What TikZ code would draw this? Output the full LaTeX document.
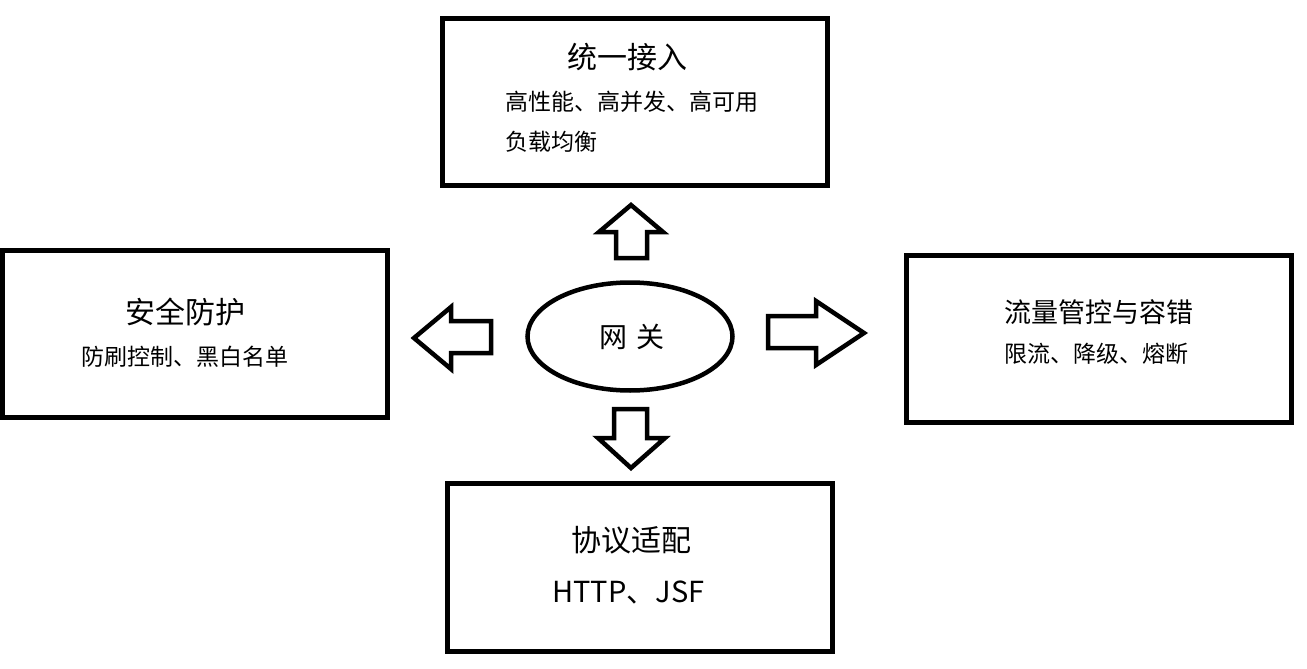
\documentclass[tikz,border=0pt]{standalone}
\usepackage{fontspec}
\setmainfont{Noto Sans CJK SC}
\usetikzlibrary{shapes.geometric}
\begin{document}
\begin{tikzpicture}[x=1pt,y=-1pt,
  box/.style={draw,line width=5pt,inner sep=0pt,minimum width=385pt,minimum height=167pt},
  blockarrow/.style={draw,line width=4.5pt,line join=miter},
  title/.style={inner sep=0pt,font=\fontsize{30}{36}\selectfont},
  body/.style={inner sep=0pt,font=\fontsize{23}{28}\selectfont}]
\useasboundingbox (0,0) rectangle (1307,669);
% boxes
\node[box] (top) at (635,102) {};
\node[box] (left) at (195,334) {};
\node[box,minimum width=385.5pt] (right) at (1098.75,338.5) {};
\node[box,minimum height=168pt] (bottom) at (640,567.5) {};
% centre ellipse
\node[draw,ellipse,line width=4.5pt,minimum width=205pt,minimum height=108pt,inner sep=0pt] (gw) at (630,336.5) {};
\node[inner sep=0pt,font=\fontsize{28}{34}\selectfont] (gwt) at (632,337) {网\,\,关};
% texts
\node[title] (t1) at (627.5,57) {统一接入};
\node[body,anchor=west] (t1a) at (505,102) {高性能、高并发、高可用};
\node[body,anchor=west] (t1b) at (505,142) {负载均衡};
\node[title] (t2) at (185.5,312) {安全防护};
\node[body] (t2a) at (184.5,357) {防刷控制、黑白名单};
\node[title,font=\fontsize{27}{32}\selectfont,anchor=west] (t3) at (1004,312) {流量管控与容错};
\node[body,anchor=west] (t3a) at (1004,354) {限流、降级、熔断};
\node[title] (t4) at (631.5,540) {协议适配};
\node[title,font=\fontsize{29}{34}\selectfont] (t4a) at (628.5,592) {HTTP、JSF};
% block arrows
\draw[blockarrow] (616,258) -- (616,232) -- (599,232) -- (631,205) -- (663,232) -- (647,232) -- (647,258) -- cycle;
\draw[blockarrow] (614,409) -- (647,409) -- (647,438) -- (665,438) -- (631,468) -- (598,438) -- (614,438) -- cycle;
\draw[blockarrow] (491,321) -- (451,321) -- (451,307) -- (414,338) -- (451,369) -- (451,353) -- (491,353) -- cycle;
\draw[blockarrow] (768,316) -- (816,316) -- (816,301) -- (864,333) -- (816,365) -- (816,348) -- (768,348) -- cycle;
\end{tikzpicture}
\end{document}
